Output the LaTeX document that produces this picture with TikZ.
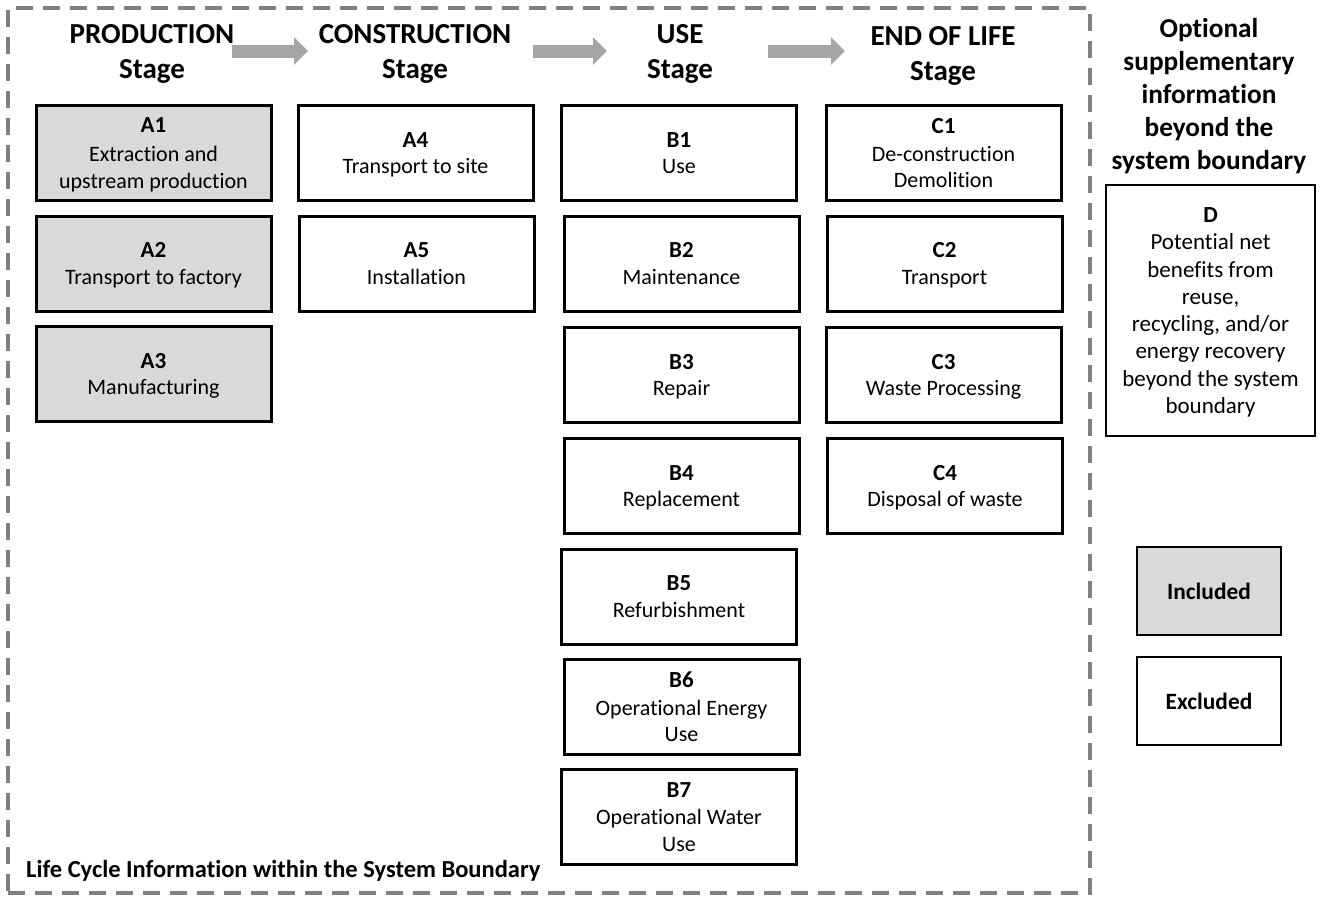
\documentclass[tikz,border=0pt]{standalone}
\usepackage{fontspec}
\setmainfont{Carlito}[Ligatures=NoCommon]
\usetikzlibrary{arrows.meta}
\definecolor{boxgray}{HTML}{D9D9D9}
\definecolor{dashgray}{HTML}{808080}
\definecolor{arrowgray}{HTML}{A6A6A6}
\newcommand{\boxlab}[1]{{\fontsize{23}{26.5}\selectfont\bfseries #1}}
\begin{document}
\begin{tikzpicture}[x=1pt,y=-1pt,
  stagebox/.style={draw=black, line width=3pt, align=center, inner sep=0pt, text depth=0pt,
    font=\fontsize{22}{26.5}\selectfont, minimum width=235pt, minimum height=95pt},
  inclbox/.style={stagebox, fill=boxgray},
  stagetitle/.style={align=center, inner sep=0pt, font=\fontsize{29}{35}\selectfont\bfseries},
  flow/.style={arrowgray, line width=13pt, -{Triangle[length=14pt,width=27pt]}},
  boundary/.style={draw=dashgray, line width=4pt, dash pattern=on 17pt off 10pt, inner sep=0pt},
  legendbox/.style={draw=black, line width=2.5pt, align=center, inner sep=0pt,
    font=\fontsize{23.4}{27}\selectfont\bfseries, minimum width=144pt, minimum height=88pt},
  dbox/.style={draw=black, line width=2pt, align=center, inner sep=0pt,
    font=\fontsize{23}{27.3}\selectfont, minimum width=209pt, minimum height=251pt},
]
\useasboundingbox (0,0) rectangle (1320,897);
\fill[white] (0,0) rectangle (1320,897);

% system boundary
\node[boundary, minimum width=1082pt, minimum height=885pt] (sysb) at (549,450.5) {};

% stage titles
\node[stagetitle] (tP) at (152,53.5) {PRODUCTION\\Stage};
\node[stagetitle] (tC) at (415,53.5) {CONSTRUCTION\\Stage};
\node[stagetitle] (tU) at (680,53.5) {USE\\Stage};
\node[stagetitle] (tE) at (943,55.5) {END OF LIFE\\Stage};

% flow arrows
\coordinate (f1s) at (232,51); \coordinate (f1e) at (308,51);
\coordinate (f2s) at (533,51); \coordinate (f2e) at (607,51);
\coordinate (f3s) at (768,51); \coordinate (f3e) at (845,51);
\draw[flow] (f1s) -- (f1e);
\draw[flow] (f2s) -- (f2e);
\draw[flow] (f3s) -- (f3e);

% production
\node[inclbox] (A1) at (153.5,153) {\boxlab{A1}\\[3pt]Extraction and\\upstream production};
\node[inclbox] (A2) at (153.5,263.5) {\boxlab{A2}\\Transport to factory};
\node[inclbox] (A3) at (153.5,374) {\boxlab{A3}\\Manufacturing};

% construction
\node[stagebox] (A4) at (415.5,153) {\boxlab{A4}\\Transport to site};
\node[stagebox] (A5) at (416.5,263.5) {\boxlab{A5}\\Installation};

% use
\node[stagebox] (B1) at (679,153) {\boxlab{B1}\\Use};
\node[stagebox] (B2) at (681.5,263.5) {\boxlab{B2}\\Maintenance};
\node[stagebox] (B3) at (681.5,375) {\boxlab{B3}\\Repair};
\node[stagebox] (B4) at (681.5,486) {\boxlab{B4}\\Replacement};
\node[stagebox] (B5) at (679,596.5) {\boxlab{B5}\\Refurbishment};
\node[stagebox] (B6) at (681.5,707) {\boxlab{B6}\\[1pt]Operational Energy\\Use};
\node[stagebox] (B7) at (679,817) {\boxlab{B7}\\[1pt]Operational Water\\Use};

% end of life
\node[stagebox] (C1) at (943.5,153) {\boxlab{C1}\\[1pt]De-construction\\Demolition};
\node[stagebox] (C2) at (944.5,263.5) {\boxlab{C2}\\Transport};
\node[stagebox] (C3) at (943.5,375) {\boxlab{C3}\\Waste Processing};
\node[stagebox] (C4) at (945,486) {\boxlab{C4}\\Disposal of waste};

% boundary label
\node[anchor=west, inner sep=0pt, font=\fontsize{24.5}{26}\selectfont\bfseries] (blabel) at (26,871) {Life Cycle Information within the System Boundary};

% optional supplementary
\node[align=center, inner sep=0pt, font=\fontsize{27.3}{33}\selectfont\bfseries] (opt) at (1209,96.5)
  {Optional\\supplementary\\information\\beyond the\\system boundary};
\node[dbox, text depth=0pt] (D) at (1210.5,310.5) {\textbf{D}\\Potential net\\benefits from\\reuse,\\recycling, and/or\\energy recovery\\beyond the system\\boundary};

% legend
\node[legendbox, fill=boxgray] (inc) at (1209,591) {Included};
\node[legendbox, fill=white] (exc) at (1209,701) {Excluded};
\end{tikzpicture}
\end{document}
